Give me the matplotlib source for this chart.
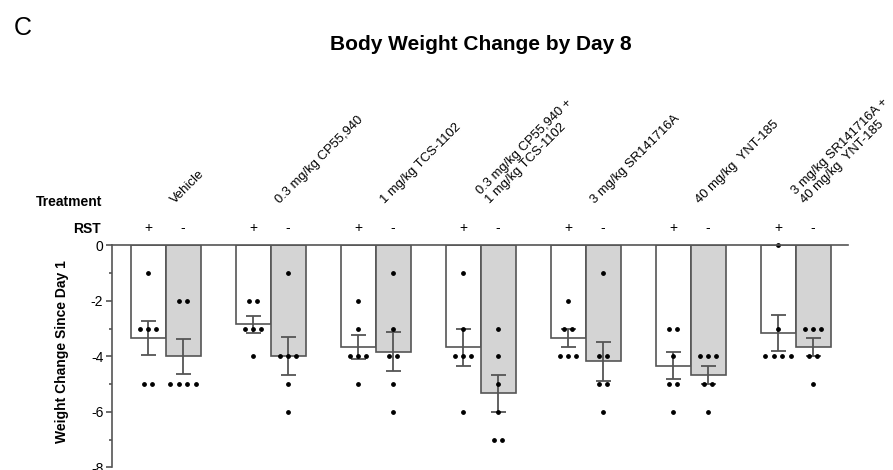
import numpy as np
import matplotlib
matplotlib.use('Agg')
import matplotlib.pyplot as plt
from matplotlib.ticker import MultipleLocator

plt.rcParams['font.family'] = ['Liberation Sans', 'DejaVu Sans']
plt.rcParams['axes.unicode_minus'] = False

# treatment groups, each measured with (+) and without (-) RST
treatments = ['Vehicle',
              '0.3 mg/kg CP55,940',
              '1 mg/kg TCS-1102',
              '0.3 mg/kg CP55,940 +\n1 mg/kg TCS-1102',
              '3 mg/kg SR141716A',
              '40 mg/kg  YNT-185',
              '3 mg/kg SR141716A +\n40 mg/kg  YNT-185']

# weight change (g) of each animal by day 8
rst_plus = [[-1, -3, -3, -3, -5, -5],
            [-2, -2, -3, -3, -3, -4],
            [-2, -3, -4, -4, -4, -5],
            [-1, -3, -4, -4, -4, -6],
            [-2, -3, -3, -4, -4, -4],
            [-3, -3, -4, -5, -5, -6],
            [0, -3, -4, -4, -4, -4]]
rst_minus = [[-2, -2, -5, -5, -5, -5],
             [-1, -4, -4, -4, -5, -6],
             [-1, -3, -4, -4, -5, -6],
             [-3, -4, -5, -6, -7, -7],
             [-1, -4, -4, -5, -5, -6],
             [-4, -4, -4, -5, -5, -6],
             [-3, -3, -3, -4, -4, -5]]

edge = '#555555'
W, H = 893, 470
fig = plt.figure(figsize=(W / 100, H / 100), dpi=100)
ax = fig.add_axes([112 / W, 1 - 467.3 / H, (848 - 112) / W, (467.3 - 245.5) / H])


def draw_group(x, vals, fill):
    vals = np.array(vals, dtype=float)
    m = vals.mean()
    sem = vals.std(ddof=1) / np.sqrt(len(vals))
    ax.bar(x, m, width=1.0, color=fill, edgecolor=edge, linewidth=1.2, zorder=2)
    ax.errorbar(x, m, yerr=sem, color=edge, lw=1.3, capsize=5.4, capthick=1.3, zorder=3)
    # spread repeated values sideways
    for v in np.unique(vals):
        n = int((vals == v).sum())
        xs = x + (np.arange(n) - (n - 1) / 2) * 0.24
        ax.scatter(xs, [v] * n, s=6, color='black', zorder=4, clip_on=False)


for i, name in enumerate(treatments):
    xw, xg = 3 * i, 3 * i + 1
    draw_group(xw, rst_plus[i], 'white')
    draw_group(xg, rst_minus[i], '#d4d4d4')
    ax.text(xw, 0.63, '+', ha='center', va='center', fontsize=10, clip_on=False)
    ax.text(xg, 0.63, '-', ha='center', va='center', fontsize=10, clip_on=False)
    ax.text(xw + 0.5 + 0.33, 1.41, name, rotation=45, rotation_mode='anchor',
            ha='left', va='bottom', fontsize=9.4, linespacing=1.15, clip_on=False)

ax.set_xlim(-1.03, 20.0)
ax.set_ylim(-8, 0)
ax.set_xticks([])
ax.yaxis.set_major_locator(MultipleLocator(2))
ax.yaxis.set_minor_locator(MultipleLocator(1))
ax.tick_params(axis='y', which='major', length=4.3, width=1.2, color=edge, labelsize=10, pad=2)
ax.tick_params(axis='y', which='minor', length=2.2, width=1.2, color=edge)
for s in ['right', 'bottom']:
    ax.spines[s].set_visible(False)
for s in ['left', 'top']:
    ax.spines[s].set_color(edge)
    ax.spines[s].set_linewidth(1.2)
    ax.spines[s].set_zorder(5)

ax.set_ylabel('Weight Change Since Day 1', fontsize=10, fontweight='bold')
ax.yaxis.set_label_coords((69 - 112) / (848 - 112), (467.3 - 351.7) / (467.3 - 245.5))

fig.text(101 / W, 1 - 233 / H, 'RST', ha='right', va='baseline', fontsize=10, fontweight='bold')
fig.text(102 / W, 1 - 206.5 / H, 'Treatment', ha='right', va='baseline', fontsize=10, fontweight='bold')
fig.text(481 / W, 1 - 50 / H, 'Body Weight Change by Day 8', ha='center', va='baseline',
         fontsize=15, fontweight='bold')
fig.text(14 / W, 1 - 35 / H, 'C', ha='left', va='baseline', fontsize=18)

fig.savefig('out.png', dpi=100)
